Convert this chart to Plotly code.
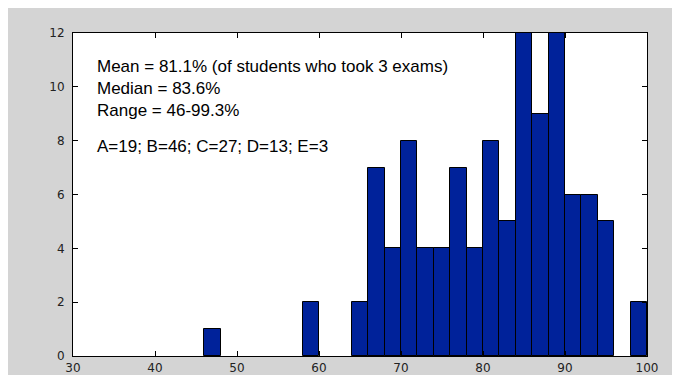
import plotly.graph_objects as go

bin_left = [46, 58, 64, 66, 68, 70, 72, 74, 76, 78, 80, 82, 84, 86, 88, 90, 92, 94, 98]
counts = [1, 2, 2, 7, 4, 8, 4, 4, 7, 4, 8, 5, 12, 9, 12, 6, 6, 5, 2]
bin_width = 2
x_ticks = [30, 40, 50, 60, 70, 80, 90, 100]
y_ticks = [0, 2, 4, 6, 8, 10, 12]
stats_lines = [
    "Mean = 81.1% (of students who took 3 exams)",
    "Median = 83.6%",
    "Range = 46-99.3%",
]
grade_line = "A=19; B=46; C=27; D=13; E=3"

centers = [b + bin_width / 2 for b in bin_left]

fig = go.Figure()
fig.add_trace(go.Bar(
    x=centers, y=counts, width=bin_width,
    marker=dict(color="#00229A", line=dict(color="#000000", width=1)),
    showlegend=False, hoverinfo="skip",
))

axis_common = dict(
    showgrid=False, zeroline=False, showline=True, linecolor="#000000", linewidth=1,
    mirror="ticks", ticks="inside", ticklen=5, tickcolor="#000000",
    tickfont=dict(family="DejaVu Sans, Arial", size=12, color="#222222"),
)

fig.update_xaxes(range=[30, 100], tickvals=x_ticks, ticklabelstandoff=1, **axis_common)
fig.update_yaxes(range=[0, 12], tickvals=y_ticks, ticklabelstandoff=5, **axis_common)

text_font = dict(family="Arial, Liberation Sans", size=17, color="#000000")
fig.add_annotation(
    xref="paper", yref="paper", x=0.038, y=0.932, xanchor="left", yanchor="top",
    text="<br>".join(stats_lines), showarrow=False, align="left", font=text_font,
)
fig.add_annotation(
    xref="paper", yref="paper", x=0.038, y=0.684, xanchor="left", yanchor="top",
    text=grade_line, showarrow=False, align="left", font=text_font,
)

# grey frame (the page adds an 8px body margin, so everything is offset)
fig.add_shape(type="rect", xref="paper", yref="paper",
              x0=-0.2, x1=1.062, y0=-0.0588, y1=1.2,
              fillcolor="#D4D4D4", line=dict(width=0), layer="below")
fig.add_shape(type="rect", xref="paper", yref="paper",
              x0=0, x1=1, y0=0, y1=1,
              fillcolor="#FFFFFF", line=dict(width=0), layer="below")

fig.update_layout(
    width=680, height=379,
    margin=dict(l=65, r=41, t=25, b=31),
    paper_bgcolor="#FFFFFF", plot_bgcolor="#FFFFFF",
    bargap=0,
)

fig.write_html("out.html")
